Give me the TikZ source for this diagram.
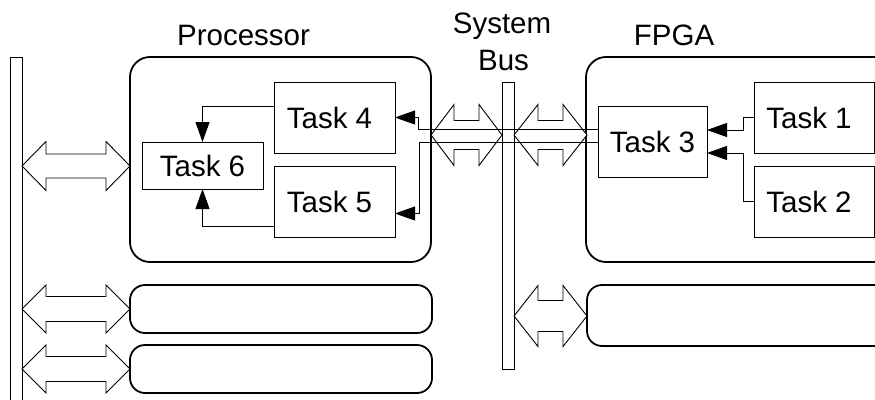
\documentclass[tikz,border=0pt]{standalone}
\usepackage{fontspec}
\setmainfont{Liberation Sans}
\usetikzlibrary{arrows.meta,calc}
\newcommand{\darrow}[6]{%
  \draw[dbl] (#1,#3) -- (#1+#6,#3-#4) -- (#1+#6,#3-#5) -- (#2-#6,#3-#5) -- (#2-#6,#3-#4) -- (#2,#3)
    -- (#2-#6,#3+#4) -- (#2-#6,#3+#5) -- (#1+#6,#3+#5) -- (#1+#6,#3+#4) -- cycle;}
\begin{document}
\begin{tikzpicture}[x=1pt,y=-1pt,
  every node/.style={inner sep=0pt, outer sep=0pt, font=\fontsize{29.5}{35}\selectfont},
  bigbox/.style={draw, line width=1.8pt, rounded corners=20pt, anchor=north west},
  smallbox/.style={draw, line width=1.8pt, rounded corners=15pt, anchor=north west},
  taskbox/.style={draw, line width=0.9pt, anchor=north west},
  barbox/.style={draw, line width=0.9pt, anchor=north west, minimum width=12pt},
  arr/.style={line width=0.9pt, -{Triangle[length=20pt,width=14pt]}},
  dbl/.style={draw, line width=0.9pt, fill=white, line join=miter}]
\useasboundingbox (0,0) rectangle (875,399);
\clip (0,0) rectangle (875,399);

% bars
\node[barbox, minimum height=360pt] (lbar) at (10,57) {};
\node[barbox, minimum height=287pt] (bus) at (502,82) {};

% big containers
\node[bigbox, minimum width=301pt, minimum height=205pt] (proc) at (130,57) {};
\node[bigbox, minimum width=310pt, minimum height=205pt] (fpga) at (586,57) {};
\node[smallbox, minimum width=302pt, minimum height=48pt] (b1) at (130,285) {};
\node[smallbox, minimum width=302pt, minimum height=48pt] (b2) at (130,345) {};
\node[smallbox, minimum width=310pt, minimum height=61pt] (b3) at (587,285) {};

% labels
\node[anchor=base] (lproc) at (243.5,45) {Processor};
\node[anchor=base] (lfpga) at (674,45) {FPGA};
\node[anchor=base] (lsys) at (502,33) {System};
\node[anchor=base] (lbus) at (503.5,70) {Bus};

% tasks
\node[taskbox, minimum width=121pt, minimum height=47pt] (t6) at (142,142) {Task 6};
\node[taskbox, minimum width=121pt, minimum height=71pt] (t4) at (274,82) {Task 4\hspace*{10pt}};
\node[taskbox, minimum width=121pt, minimum height=71pt] (t5) at (274,166) {Task 5\hspace*{10pt}};
\node[taskbox, minimum width=109pt, minimum height=71pt] (t3) at (598,106) {Task 3};
\node[taskbox, minimum width=120pt, minimum height=71pt] (t1) at (754,82) {Task 1\hspace*{10pt}};
\node[taskbox, minimum width=120pt, minimum height=71pt] (t2) at (754,166) {Task 2\hspace*{10pt}};

% double arrows
\darrow{22}{130}{166}{24.5}{12}{24}
\darrow{22}{130}{309}{24}{12.5}{24}
\darrow{22}{130}{369}{24}{12.5}{24}
\darrow{431}{502}{135}{30.5}{14.5}{23}
\darrow{514}{587}{135}{30.5}{14.5}{24}
\darrow{514}{587}{316}{30.5}{15.5}{24}

% connectors
\draw[arr] (t1.west) -- ++(-11,0) |- ([yshift=11.5pt]t3.east);
\draw[arr] (t2.west) -- ++(-11,0) |- ([yshift=-11.5pt]t3.east);
\draw[arr] ([yshift=11.5pt]t4.west) -| (t6.north);
\draw[arr] ([yshift=-24.5pt]t5.west) -| (t6.south);
\draw[arr] ([yshift=12.5pt]t3.west) -- ++(-180,0) |- (t4.east);
\draw[arr] ([yshift=-0.5pt]t3.west) -- ++(-179,0) |- ([yshift=-12pt]t5.east);
\end{tikzpicture}
\end{document}
